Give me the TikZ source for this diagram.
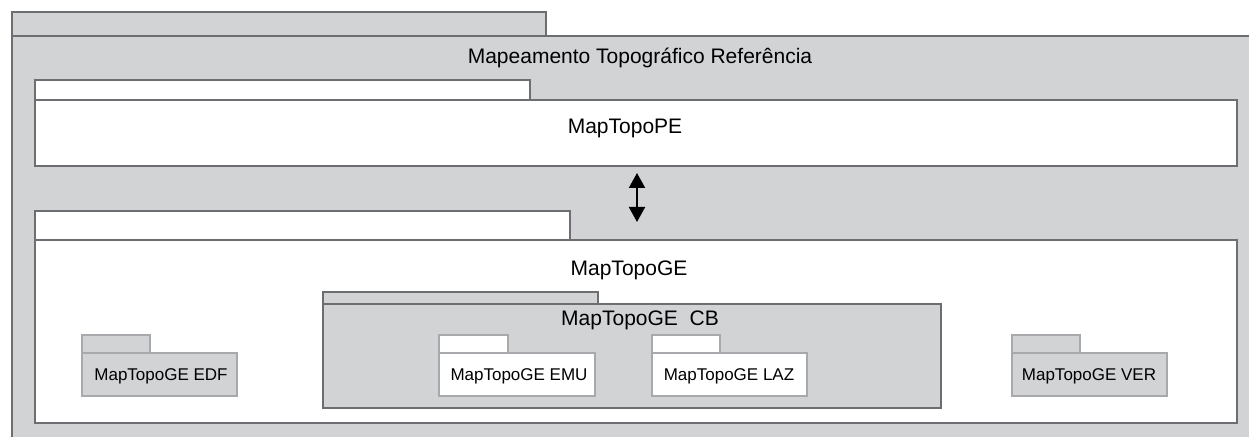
\documentclass[tikz,border=0pt]{standalone}
\usepackage{fontspec}
\setmainfont{Liberation Sans}
\usetikzlibrary{arrows.meta}

\definecolor{pkggray}{HTML}{D1D3D4}
\definecolor{darkedge}{HTML}{6D6E71}
\definecolor{lightedge}{HTML}{A7A9AC}

% package: style, left, tab top, tab right, body top, body right, body bottom
\newcommand{\Pkg}[7]{
  \draw [#1] (#2,#3) rectangle (#4,#5);
  \draw [#1] (#2,#5) rectangle (#6,#7);
}

\begin{document}
\begin{tikzpicture}
  [x=0.5pt, y=-0.5pt,
   outerpkg/.style={fill=pkggray, draw=darkedge, line width=0.75pt},
   whitepkg/.style={fill=white, draw=darkedge, line width=0.75pt},
   greysub/.style={fill=pkggray, draw=lightedge, line width=0.75pt},
   whitesub/.style={fill=white, draw=lightedge, line width=0.75pt},
   pkgtitle/.style={font=\fontsize{10.5}{12}\selectfont, inner sep=0pt},
   pkgname/.style={font=\fontsize{8.5}{10}\selectfont, inner sep=0pt},
   dblarrow/.style={{Triangle[width=8pt,length=7.5pt]}-{Triangle[width=8pt,length=7.5pt]}, line width=1pt}]

\useasboundingbox (0,0) rectangle (1249,437);
\clip (0,0) rectangle (1249,437);

\Pkg{outerpkg}{12}{12}{546}{36}{1262}{450}
\Pkg{whitepkg}{35}{80}{530}{100}{1237}{166}
\Pkg{whitepkg}{35}{211}{570}{240}{1237}{423}
\Pkg{outerpkg}{323}{292}{598}{304}{941}{408}

\Pkg{greysub}{82}{335}{150}{353}{237}{396}
\Pkg{whitesub}{439}{335}{508}{353}{595}{396}
\Pkg{whitesub}{652}{335}{720}{353}{807}{396}
\Pkg{greysub}{1012}{335}{1080}{353}{1167}{396}

\node [pkgtitle] (ref) at (640,58) {Mapeamento Topográfico Referência};
\node [pkgtitle] (pe) at (625,128) {MapTopoPE};
\node [pkgtitle] (ge) at (629,270) {MapTopoGE};
\node [pkgtitle] (cb) at (640,320) {MapTopoGE~~CB};

\node [pkgname] (edf) at (161,376) {MapTopoGE EDF};
\node [pkgname] (emu) at (519,376) {MapTopoGE EMU};
\node [pkgname] (laz) at (729,376) {MapTopoGE LAZ};
\node [pkgname] (ver) at (1089,376) {MapTopoGE VER};

\coordinate (up) at (637,173);
\coordinate (down) at (637,222);
\draw [dblarrow] (up) -- (down);

\end{tikzpicture}
\end{document}
